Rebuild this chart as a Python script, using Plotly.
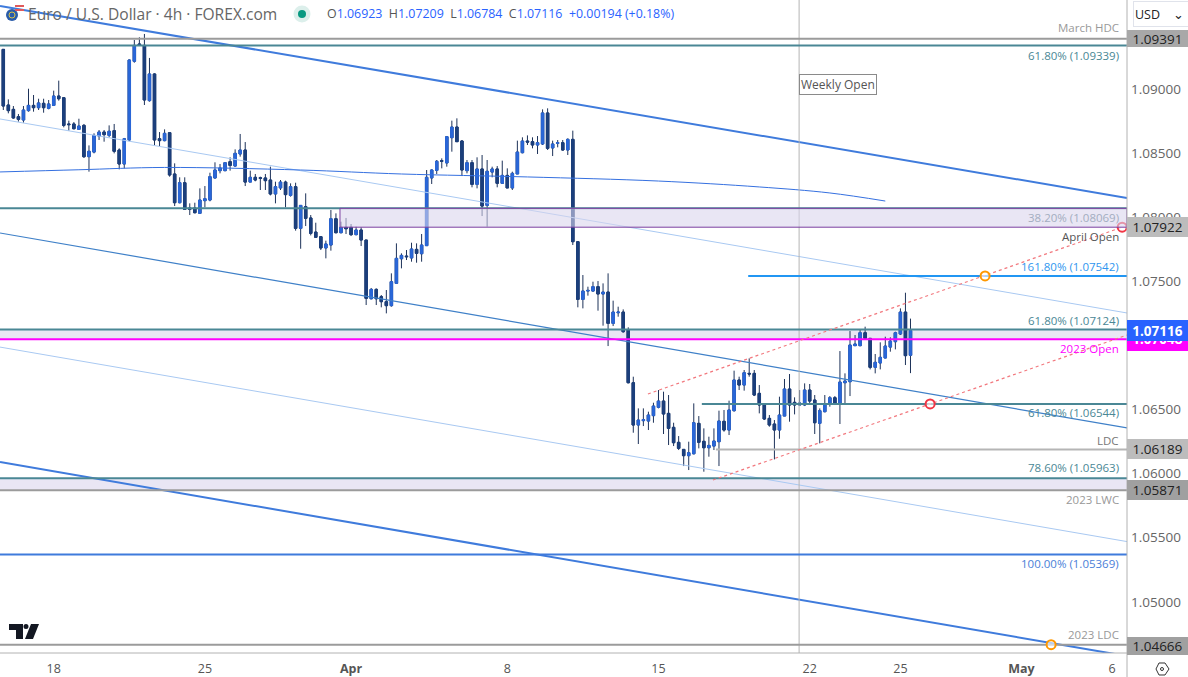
import plotly.graph_objects as go

opens = [1.09309,1.08875,1.08841,1.08784,1.08758,1.08831,1.08872,1.08854,1.08888,1.08849,
1.08872,1.08945,1.08932,1.08727,1.08727,1.08685,1.08716,1.08472,1.08508,1.08633,
1.08664,1.08638,1.08675,1.08524,1.08415,1.08602,1.09216,1.09351,1.09340,1.08909,
1.09117,1.08612,1.08597,1.08659,1.08337,1.08113,1.08269,1.08072,1.08072,1.08030,
1.08129,1.08134,1.08306,1.08363,1.08363,1.08433,1.08399,1.08493,1.08524,1.08274,
1.08311,1.08308,1.08306,1.08290,1.08181,1.08228,1.08274,1.08170,1.08238,1.07913,
1.08082,1.07994,1.07884,1.07848,1.07760,1.07783,1.07988,1.07879,1.07921,1.07921,
1.07864,1.07900,1.07822,1.07364,1.07437,1.07380,1.07341,1.07310,1.07484,1.07676,
1.07697,1.07682,1.07749,1.07715,1.07778,1.08306,1.08365,1.08441,1.08423,1.08620,
1.08703,1.08594,1.08363,1.08425,1.08256,1.08376,1.08092,1.08352,1.08376,1.08264,
1.08326,1.08228,1.08337,1.08503,1.08594,1.08589,1.08563,1.08571,1.08813,1.08540,
1.08576,1.08581,1.08524,1.08607,1.07809,1.07359,1.07424,1.07424,1.07458,1.07401,
1.07416,1.07172,1.07255,1.07260,1.07120,1.06709,1.06379,1.06413,1.06410,1.06452,
1.06517,1.06566,1.06470,1.06361,1.06244,1.06189,1.06140,1.06155,1.06392,1.06252,
1.06202,1.06215,1.06249,1.06408,1.06340,1.06491,1.06730,1.06691,1.06782,1.06782,
1.06626,1.06543,1.06431,1.06387,1.06340,1.06449,1.06660,1.06556,1.06535,1.06535,
1.06652,1.06574,1.06392,1.06483,1.06543,1.06592,1.06543,1.06709,1.06717,1.06998,
1.06998,1.07099,1.07055,1.06829,1.06863,1.06902,1.06987,1.07029,1.07089,1.07260,
1.06923]
highs = [1.09309,1.08919,1.08867,1.08805,1.08867,1.09002,1.08953,1.08924,1.08924,1.08914,
1.08987,1.09065,1.08935,1.08753,1.08742,1.08768,1.08727,1.08560,1.08654,1.08680,
1.08680,1.08716,1.08727,1.08537,1.08618,1.09231,1.09382,1.09403,1.09429,1.09242,
1.09122,1.08664,1.08685,1.08664,1.08420,1.08311,1.08311,1.08108,1.08113,1.08225,
1.08243,1.08347,1.08428,1.08415,1.08425,1.08467,1.08529,1.08649,1.08586,1.08363,
1.08337,1.08316,1.08337,1.08394,1.08277,1.08290,1.08285,1.08264,1.08269,1.08092,
1.08186,1.08017,1.07957,1.07853,1.07817,1.08056,1.08030,1.07965,1.07994,1.07947,
1.07926,1.07921,1.07822,1.07448,1.07445,1.07393,1.07432,1.07562,1.07796,1.07718,
1.07744,1.07801,1.07796,1.07869,1.08368,1.08373,1.08446,1.08459,1.08633,1.08753,
1.08771,1.08602,1.08446,1.08446,1.08467,1.08485,1.08446,1.08394,1.08399,1.08441,
1.08381,1.08355,1.08597,1.08623,1.08638,1.08623,1.08633,1.08841,1.08849,1.08597,
1.08602,1.08602,1.08615,1.08675,1.07814,1.07549,1.07458,1.07497,1.07502,1.07484,
1.07562,1.07349,1.07302,1.07281,1.07141,1.06756,1.06509,1.06509,1.06483,1.06553,
1.06652,1.06639,1.06613,1.06397,1.06293,1.06189,1.06249,1.06548,1.06449,1.06353,
1.06288,1.06353,1.06491,1.06496,1.06569,1.06803,1.06756,1.06808,1.06899,1.06808,
1.06691,1.06548,1.06457,1.06418,1.06600,1.06738,1.06777,1.06595,1.06652,1.06704,
1.06699,1.06613,1.06509,1.06613,1.06605,1.06605,1.06956,1.06782,1.07112,1.07081,
1.07125,1.07146,1.07055,1.06933,1.07024,1.07068,1.07063,1.07107,1.07289,1.07411,
1.07209]
lows = [1.08836,1.08810,1.08768,1.08745,1.08737,1.08823,1.08823,1.08836,1.08815,1.08841,
1.08867,1.08909,1.08701,1.08675,1.08685,1.08680,1.08462,1.08355,1.08498,1.08602,
1.08589,1.08623,1.08498,1.08373,1.08381,1.08592,1.09205,1.09335,1.08875,1.08901,
1.08560,1.08555,1.08592,1.08316,1.08087,1.08108,1.08061,1.08017,1.08030,1.08025,
1.08077,1.08124,1.08300,1.08342,1.08358,1.08363,1.08394,1.08472,1.08243,1.08274,
1.08280,1.08212,1.08212,1.08170,1.08108,1.08212,1.08077,1.08160,1.07895,1.07754,
1.07931,1.07858,1.07843,1.07744,1.07679,1.07739,1.07874,1.07874,1.07869,1.07853,
1.07858,1.07775,1.07315,1.07359,1.07315,1.07297,1.07250,1.07302,1.07484,1.07601,
1.07666,1.07653,1.07645,1.07653,1.07778,1.08259,1.08337,1.08381,1.08394,1.08511,
1.08589,1.08321,1.08342,1.08233,1.08225,1.08009,1.07926,1.08311,1.08233,1.08264,
1.08228,1.08212,1.08337,1.08498,1.08563,1.08537,1.08493,1.08563,1.08524,1.08477,
1.08545,1.08519,1.08485,1.07783,1.07297,1.07289,1.07388,1.07419,1.07271,1.07154,
1.06995,1.07151,1.07224,1.07099,1.06704,1.06319,1.06231,1.06371,1.06340,1.06397,
1.06509,1.06309,1.06223,1.06215,1.06184,1.06059,1.06028,1.06150,1.06197,1.06015,
1.06132,1.06184,1.06059,1.06327,1.06301,1.06483,1.06652,1.06647,1.06756,1.06605,
1.06470,1.06418,1.06366,1.06111,1.06272,1.06449,1.06405,1.06462,1.06527,1.06527,
1.06543,1.06309,1.06236,1.06478,1.06522,1.06535,1.06387,1.06548,1.06605,1.06995,
1.06993,1.07047,1.06813,1.06782,1.06813,1.06899,1.06951,1.06969,1.07081,1.06847,
1.06784]
closes = [1.08867,1.08831,1.08774,1.08763,1.08836,1.08872,1.08854,1.08891,1.08854,1.08883,
1.08945,1.08924,1.08716,1.08722,1.08690,1.08711,1.08472,1.08514,1.08638,1.08664,
1.08644,1.08670,1.08514,1.08415,1.08612,1.09226,1.09340,1.09340,1.08914,1.09117,
1.08602,1.08597,1.08654,1.08329,1.08113,1.08269,1.08061,1.08061,1.08035,1.08134,
1.08144,1.08316,1.08368,1.08384,1.08425,1.08404,1.08498,1.08524,1.08274,1.08311,
1.08290,1.08303,1.08285,1.08181,1.08238,1.08274,1.08176,1.08238,1.07913,1.08092,
1.07991,1.07874,1.07843,1.07760,1.07791,1.07988,1.07879,1.07921,1.07910,1.07864,
1.07900,1.07822,1.07367,1.07437,1.07364,1.07341,1.07310,1.07497,1.07679,1.07702,
1.07692,1.07752,1.07718,1.07783,1.08311,1.08368,1.08436,1.08436,1.08628,1.08703,
1.08589,1.08368,1.08425,1.08256,1.08376,1.08087,1.08358,1.08376,1.08264,1.08326,
1.08228,1.08342,1.08508,1.08594,1.08586,1.08563,1.08581,1.08813,1.08537,1.08571,
1.08581,1.08524,1.08607,1.07809,1.07359,1.07424,1.07429,1.07458,1.07401,1.07416,
1.07172,1.07260,1.07260,1.07107,1.06709,1.06379,1.06418,1.06421,1.06457,1.06527,
1.06566,1.06465,1.06353,1.06241,1.06197,1.06140,1.06163,1.06397,1.06244,1.06202,
1.06220,1.06254,1.06410,1.06340,1.06496,1.06730,1.06691,1.06787,1.06777,1.06613,
1.06535,1.06426,1.06379,1.06340,1.06457,1.06660,1.06535,1.06535,1.06551,1.06652,
1.06566,1.06397,1.06491,1.06540,1.06592,1.06543,1.06714,1.06722,1.07003,1.07011,
1.07099,1.07055,1.06829,1.06868,1.06907,1.06995,1.07034,1.07099,1.07260,1.06920,
1.07116]
bars = list(range(len(opens)))

tick_bars = [10, 40, 69, 100, 130, 160, 178, 202, 220]
tick_labels = ["18", "25", "<b>Apr</b>", "8", "15", "22", "25", "<b>May</b>", "6"]
price_ticks = [1.05, 1.055, 1.06, 1.065, 1.07, 1.075, 1.08, 1.085, 1.09]

ma_bars = [-0.65, 15, 32, 59, 79, 104, 130, 150, 164, 175]
ma_vals = [1.08353, 1.08370, 1.08388, 1.08368, 1.08337, 1.08314, 1.08282, 1.08236, 1.08189, 1.08126]

XMIN, XMAX = -0.655, 222.96
YMIN, YMAX = 1.04601, 1.09694
BLUE = "#2a67d8"
NAVY = "#1c3f7c"
WICK = "#1d3259"
TEAL = "#4a8795"
ZONE = "rgba(218,213,236,0.59)"
ZONE_SOLID = "#e9e6f4"
FONT = "Open Sans, sans-serif"
PW, PH = 1127.0, 653.0

fig = go.Figure()
# wicks
fig.add_trace(go.Candlestick(x=bars, open=opens, high=highs, low=lows, close=closes,
    increasing=dict(line=dict(color=WICK, width=1), fillcolor=WICK),
    decreasing=dict(line=dict(color=WICK, width=1), fillcolor=WICK),
    whiskerwidth=0, hoverinfo="skip", showlegend=False))
# bodies
body_hi = [max(o, c) for o, c in zip(opens, closes)]
body_lo = [min(o, c) for o, c in zip(opens, closes)]
fig.add_trace(go.Candlestick(x=bars, open=opens, high=body_hi, low=body_lo, close=closes,
    increasing=dict(line=dict(color=BLUE, width=1), fillcolor=BLUE),
    decreasing=dict(line=dict(color=NAVY, width=1), fillcolor=NAVY),
    whiskerwidth=0, hoverinfo="skip", showlegend=False))

def line(xs, ys, color, width, dash="solid", shape="linear"):
    fig.add_trace(go.Scatter(x=xs, y=ys, mode="lines", showlegend=False, hoverinfo="skip",
                             line=dict(color=color, width=width, dash=dash, shape=shape)))

# descending channel
line([XMIN, XMAX], [1.09647, 1.08150], "#3f7bdc", 2)
line([XMIN, XMAX], [1.08766, 1.07253], "#a9c9f2", 1)
line([XMIN, XMAX], [1.07877, 1.06356], "#3f80c8", 1.2)
line([XMIN, XMAX], [1.06987, 1.05470], "#a9c9f2", 1)
line([XMIN, XMAX], [1.06090, 1.04577], "#3f7bdc", 2)
line(ma_bars, ma_vals, "#3570e0", 1, shape="spline")
# weekly separator
line([157.9, 157.9], [YMIN, YMAX], "#b4b4b4", 1)
# levels
line([XMIN, XMAX], [1.09391]*2, "#9b9b9b", 2)
line([XMIN, XMAX], [1.09339]*2, TEAL, 2)
line([XMIN, XMAX], [1.08069]*2, TEAL, 2)
line([147.8, XMAX], [1.07542]*2, "#2196f3", 2)
line([XMIN, XMAX], [1.07124]*2, TEAL, 2)
line([XMIN, XMAX], [1.07048]*2, "#ff00ff", 2)
line([138.6, XMAX], [1.06544]*2, TEAL, 2)
line([141.4, XMAX], [1.06189]*2, "#b5b5b5", 2)
line([XMIN, XMAX], [1.05963]*2, TEAL, 2)
line([XMIN, XMAX], [1.05871]*2, "#9b9b9b", 2)
line([XMIN, XMAX], [1.05369]*2, "#3f7bdc", 2)
line([XMIN, XMAX], [1.04666]*2, "#9b9b9b", 2)
# rising channel
line([127.9, 222], [1.06621, 1.07922], "#f2787e", 1.2, dash="dot")
line([140.8, XMAX], [1.05950, 1.07081], "#f2787e", 1.2, dash="dot")
fig.add_trace(go.Scatter(x=[222, 183.9], y=[1.07922, 1.06544], mode="markers", showlegend=False,
    hoverinfo="skip", marker=dict(size=9, color="rgba(255,255,255,0.6)", line=dict(color="#f23645", width=2))))
fig.add_trace(go.Scatter(x=[194.8, 207.9], y=[1.07542, 1.04666], mode="markers", showlegend=False,
    hoverinfo="skip", marker=dict(size=9, color="rgba(255,255,255,0.6)", line=dict(color="#ff9800", width=2))))

def px(x): return x / PW
def py(y): return 1 - y / PH

shapes = []
shapes.append(dict(type="rect", xref="x", yref="y", x0=66.8, x1=XMAX, y0=1.07922, y1=1.08069, layer="above",
                   fillcolor=ZONE, line=dict(color="#7b3fa0", width=1)))
for y0, y1 in [(1.07048, 1.07124), (1.05871, 1.05963)]:
    shapes.append(dict(type="rect", xref="x", yref="y", x0=XMIN, x1=XMAX, y0=y0, y1=y1, layer="below",
                       fillcolor=ZONE_SOLID, line=dict(width=0)))
# plot frame
shapes.append(dict(type="line", xref="paper", yref="paper", x0=1, x1=1, y0=py(0), y1=py(677), line=dict(color="#b2b2b2", width=1), layer="above"))
shapes.append(dict(type="line", xref="paper", yref="paper", x0=0, x1=1188/PW, y0=0, y1=0, line=dict(color="#b2b2b2", width=1), layer="above"))

def poly(pts, color):
    d = "M " + " L ".join(f"{px(a):.5f},{py(b):.5f}" for a, b in pts) + " Z"
    shapes.append(dict(type="path", xref="paper", yref="paper", path=d, fillcolor=color, line=dict(width=0), layer="above"))

def circle(cx, cy, r, fill, edge=None, w=0):
    shapes.append(dict(type="circle", xref="paper", yref="paper", x0=px(cx-r), x1=px(cx+r), y0=py(cy+r), y1=py(cy-r),
                       fillcolor=fill, line=dict(color=edge or fill, width=w), layer="above"))

# TradingView logo
poly([(9,624),(23,624),(23,639),(16,639),(16,630),(9,630)], "#131722")
circle(26, 626.5, 2.5, "#131722")
poly([(31,624),(39,624),(33,639),(25,639)], "#131722")
# symbol icon
circle(12, 15, 6, "#2a5caa")
circle(12, 15, 3, "#2a5caa", "#d9c34a", 1)
poly([(15,5),(24,5),(24,7),(15,7)], "#e05a5a")
poly([(15,9),(24,9),(24,11),(15,11)], "#e05a5a")
# status dot
circle(302, 14, 8.5, "#dcefeb")
circle(302, 14, 4, "#089981")
# settings hexagon
d = "M " + " L ".join(f"{px(a):.5f},{py(b):.5f}" for a, b in
    [(1156,669),(1159,663),(1165,663),(1169,669),(1165,675),(1159,675)]) + " Z"
shapes.append(dict(type="path", xref="paper", yref="paper", path=d, line=dict(color="#333", width=1), layer="above"))
circle(1162, 669, 1.5, "rgba(0,0,0,0)", "#333", 1)

annos = []
def note(text, price, color, yshift, size=11.5):
    annos.append(dict(text=text, xref="paper", yref="y", x=1121/PW, y=price, xanchor="right", yanchor="middle",
                      yshift=yshift, showarrow=False, font=dict(family=FONT, size=size, color=color)))

note("March HDC", 1.09391, "#999999", 11)
note("61.80% (1.09339)", 1.09339, TEAL, -10)
note("38.20% (1.08069)", 1.08069, "#a3adc0", -9)
note("April Open", 1.07922, "#555555", -9)
note("161.80% (1.07542)", 1.07542, "#2f96ef", 9)
note("61.80% (1.07124)", 1.07124, TEAL, 9.5)
note("2023 Open", 1.07048, "#ff00ff", -9)
note("61.80% (1.06544)", 1.06544, TEAL, -9)
note("LDC", 1.06189, "#777777", 9)
note("78.60% (1.05963)", 1.05963, TEAL, 11)
note("2023 LWC", 1.05871, "#999999", -9)
note("100.00% (1.05369)", 1.05369, "#4a80d8", -9)
note("2023 LDC", 1.04666, "#999999", 10)

def tag(text, price, bg, color, h, bold=False, yshift=0):
    annos.append(dict(text=f"<b>{text}</b>" if bold else text, xref="paper", yref="y", x=1, y=price, xanchor="left",
                      yanchor="middle", width=61, height=h, align="center", bgcolor=bg, borderpad=0, borderwidth=0,
                      yshift=yshift, showarrow=False, font=dict(family=FONT, size=13.5, color=color)))

tag("1.09391", 1.09391, "#a8a8a8", "#222222", 17)
tag("1.07922", 1.07922, "#bcbcbc", "#222222", 20)
tag("&nbsp;", 1.07048, "#ff00ff", "#ffffff", 19, yshift=-2)
tag("1.07048", 1.07048, "rgba(0,0,0,0)", "#ffffff", 19, yshift=1, bold=True)
tag("1.07116", 1.07116, "#2962ff", "#ffffff", 21, bold=True)
tag("1.06189", 1.06189, "#bcbcbc", "#222222", 20)
tag("1.05871", 1.05871, "#a0a0a0", "#222222", 20)
tag("1.04666", 1.04666, "#a0a0a0", "#222222", 18, yshift=-1)

# weekly open label
annos.append(dict(text="Weekly Open", xref="x", yref="paper", x=157.9, y=py(85), xanchor="left", yanchor="middle",
                  showarrow=False, bgcolor="#ffffff", bordercolor="#8a8a8a", borderwidth=1, borderpad=1,
                  font=dict(family=FONT, size=12, color="#555555")))
# header
annos.append(dict(text="Euro / U.S. Dollar · 4h · FOREX.com", xref="paper", yref="paper", x=px(26), y=py(14),
                  xanchor="left", yanchor="middle", showarrow=False, font=dict(family=FONT, size=15.6, color="#666666")))
val = '<span style="color:#2962ff">{}</span>'
ohlc = "O" + val.format("1.06923") + "  H" + val.format("1.07209") + "  L" + val.format("1.06784") + \
       "  C" + val.format("1.07116") + "  " + val.format("+0.00194 (+0.18%)")
annos.append(dict(text=ohlc, xref="paper", yref="paper", x=px(325), y=py(14), xanchor="left", yanchor="middle",
                  showarrow=False, font=dict(family=FONT, size=12.4, color="#555555")))
# currency button
annos.append(dict(text="USD    ⌄", xref="paper", yref="paper", x=px(1133), y=py(14), xanchor="left", yanchor="middle",
                  showarrow=False, width=62, height=22, align="left", bordercolor="#e0e3eb", borderwidth=1, borderpad=1,
                  bgcolor="#ffffff", font=dict(family=FONT, size=12.5, color="#222222")))

fig.update_layout(
    width=1188, height=677, margin=dict(l=0, r=61, t=0, b=24), paper_bgcolor="#ffffff", plot_bgcolor="#ffffff",
    showlegend=False, boxmode="overlay", boxgap=0.3, shapes=shapes, annotations=annos,
    font=dict(family=FONT),
    xaxis=dict(range=[XMIN, XMAX], rangeslider=dict(visible=False), showgrid=False, zeroline=False, showline=False,
               tickmode="array", tickvals=tick_bars, ticktext=tick_labels, ticks="", automargin=False,
               ticklabelstandoff=6, tickfont=dict(family=FONT, size=12.5, color="#555555")),
    yaxis=dict(range=[YMIN, YMAX], side="right", showgrid=False, zeroline=False, showline=False,
               tickmode="array", tickvals=price_ticks, ticktext=[f"{v:.5f}" for v in price_ticks], ticks="", automargin=False,
               ticklabelstandoff=3, tickfont=dict(family=FONT, size=13.5, color="#666666")),
)
fig.write_html("out.html", config=dict(displayModeBar=False),
               post_script="document.body.style.margin='0';document.body.style.overflow='hidden';")
